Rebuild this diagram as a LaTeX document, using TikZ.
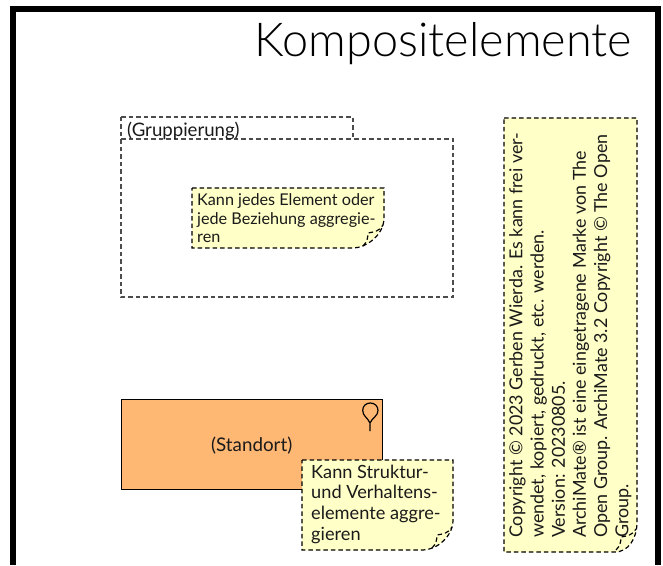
\documentclass[tikz,border=0pt]{standalone}
\usepackage{fontspec}
\setmainfont{Lato}
\newfontfamily\titlefont{Lato Light}
\definecolor{notefill}{HTML}{FFFFC8}
\definecolor{locfill}{HTML}{FFB873}
\definecolor{inkc}{HTML}{1A1A1A}
\tikzset{x=1pt,y=-1pt,
 grpline/.style={line width=1.1pt,dash pattern=on 4.5pt off 3pt,draw=black!70},
 dashline/.style={line width=1.2pt,dash pattern=on 4.5pt off 3pt,draw=black},
 notebody/.style={dashline,fill=notefill},
 textbox/.style={inner sep=0pt,align=left,anchor=north west,text=inkc},
}
\newcommand{\notepath}[5]{% x0 y0 x1 y1 curve-start offset
 \draw[notebody] (#1,#2) -- (#3,#2) -- (#3,#4-30) .. controls (#3,#4-13) and (#3-#5+13,#4) .. (#3-#5,#4) -- (#1,#4) -- cycle;
 \draw[dashline] (#3-21,#4-2) .. controls (#3-17,#4-6) and (#3-16,#4-10) .. (#3-16,#4-15) .. controls (#3-10,#4-16) and (#3-4,#4-17) .. (#3-1,#4-23);
}
\begin{document}
\begin{tikzpicture}
\useasboundingbox (0,0) rectangle (663,565);
\fill[white] (0,0) rectangle (663,565);
\draw[line width=6pt] (13,565) -- (13,9) -- (657.7,9) -- (657.7,565);
\node[inner sep=0pt,anchor=base east,font=\titlefont\fontsize{46.8}{50}\selectfont] (title) at (632,56) {Kompositelemente};
% group
\draw[grpline] (121,117) -- (353,117) -- (353,139) -- (453,139) -- (453,297) -- (121,297) -- cycle;
\draw[grpline] (121,139) -- (353,139);
\node[inner sep=0pt,anchor=base west,text=inkc,font=\fontsize{18.6}{22}\selectfont] (grp) at (127,136.7) {(Gruppierung)};
\notepath{192}{188}{384}{248}{31}
\node[textbox,font=\fontsize{16.2}{18.3}\selectfont] (n1) at (197,193.7) {Kann jedes Element oder\\jede Beziehung aggregie-\\ren};
% location
\draw[line width=1pt,fill=locfill] (121,399) rectangle (382,489);
\node[inner sep=0pt,anchor=base,text=inkc,font=\fontsize{18.8}{22}\selectfont] (loc) at (251.7,451.7) {(Standort)};
\draw[line width=1.2pt,line join=round] (370,431) -- (370,423) .. controls (368,418) and (362.7,416) .. (362.7,410.5) .. controls (362.7,406) and (366,403) .. (370.3,403) .. controls (374.6,403) and (378,406) .. (378,410.5) .. controls (378,416) and (372,418) .. (370,423);
\notepath{302}{460}{453}{550}{30}
\node[textbox,font=\fontsize{18.2}{20.6}\selectfont] (n2) at (311,464.7) {Kann Struktur-\\und Verhaltens-\\elemente aggre-\\gieren};
% copyright
\notepath{504}{118}{637}{552}{22}
\node[textbox,rotate=90,font=\fontsize{17.9}{21.2}\selectfont] (cp) at (509,538) {Copyright © 2023 Gerben Wierda. Es kann frei ver-\\wendet, kopiert, gedruckt, etc. werden.\\Version: 20230805.\\ArchiMate® ist eine eingetragene Marke von The\\Open Group. ArchiMate 3.2 Copyright © The Open\\Group.};
\end{tikzpicture}
\end{document}
